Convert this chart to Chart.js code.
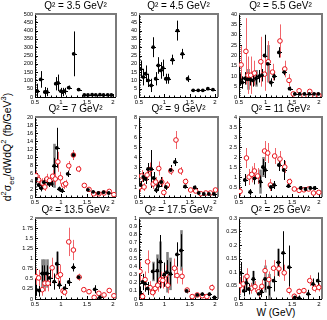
<!DOCTYPE html>
<html><head><meta charset="utf-8">
<script src="https://cdn.jsdelivr.net/npm/chart.js@4.4.0/dist/chart.umd.min.js"></script>
<style>
body{margin:0;width:327px;height:320px;background:#fff;position:relative;overflow:hidden;font-family:"Liberation Sans",Arial,sans-serif;color:#000}
.p{position:absolute}
.p canvas{display:block}
#yl{position:absolute;left:7px;top:147px;transform:translate(-50%,-50%) rotate(-90deg);white-space:nowrap;font-size:10.5px;line-height:1}
#yl sup,#yl sub{font-size:7.5px;line-height:0}
#xl{position:absolute;left:276px;top:313px;transform:translate(-50%,-50%);white-space:nowrap;font-size:10px;line-height:1}
</style></head><body>
<div id="yl">d<sup>2</sup>σ<sub>ee</sub>/dWdQ<sup>2</sup> (fb/GeV<sup>3</sup>)</div>
<div id="xl">W (GeV)</div>
<script>
// ---- data: W (GeV), value, stat error, systematic (gray) ----
// Q2 = 3.5
const w35k=[0.545,0.61,0.69,0.73,0.90,0.945,1.00,1.03,1.07,1.15,1.245,1.34,1.45,1.52,1.60,1.67,1.75,1.82,1.90,1.97];
const y35k=[35,106,30,30,80,85,35,30,35,57,260,45,12,12,14,13,14,12,13,12];
const e35k=[45,50,30,25,40,50,20,25,20,12,135,8,5,5,5,5,5,5,5,5];
// Q2 = 4.5
const w45k=[0.53,0.585,0.63,0.68,0.74,0.78,0.83,0.88,0.93,0.97,1.03,1.08,1.16,1.26,1.355,1.46,1.57,1.67,1.76,1.86,1.96];
const y45k=[17,12,14,10,7,30,11,19,16,17.5,11,11,22.5,40,26,11,4,4,4,5,4.5];
const e45k=[5,5,5,4,4,6,4,5,5,5,3,3,3,6,3,2,0.6,0.6,0.6,0.6,0.6];
// Q2 = 5.5
const w55k=[0.52,0.56,0.61,0.66,0.71,0.76,0.82,0.88,0.93,0.98,1.04,1.10,1.16,1.25,1.35,1.45,1.55,1.64,1.73,1.82,1.91,1.99];
const y55k=[8.4,7,9,8.5,8.5,8,9,10,10.5,20,16,7,10,21.5,12,4,1.5,1.5,1.5,1.5,1.5,1.5];
const e55k=[3,3,3,3,3,3,3,3,3,10,6,2,2,2.5,1.5,1,0.5,0.5,0.5,0.5,0.5,0.5];
const s55k=[0,0,0,5,0,0,4,0,0,0,9,0,0,0,0,0,0,0,0,0,0,0];
const w55r=[0.54,0.63,0.67,0.72,0.79,0.91,0.98,1.05,1.13,1.27,1.36,1.44,1.52,1.63,1.72,1.83,1.92,2.00];
const y55r=[15.5,22,10.5,10.5,11.5,17,11,17,12,27,13.5,8,1.5,3,0.7,2.7,0.8,0.8];
const e55r=[9,16,9,9,6,12,8,10,4,8,4,3,1,1,0.6,1,0.6,0.6];
// Q2 = 7
const w70k=[0.52,0.57,0.62,0.67,0.76,0.82,0.87,0.92,0.97,1.02,1.13,1.24,1.52,1.62,1.72,1.82,1.92];
const y70k=[4.5,3,2.2,3.7,3.3,3.3,7.8,12.3,2,1.6,5.8,10.5,1.8,1.3,1.0,1.2,1.0];
const e70k=[1,1,0.8,1,0.8,0.8,2,5,0.6,0.6,0.8,1.2,0.3,0.3,0.2,0.2,0.2];
const s70k=[0,0,0,0,0,0,5.5,0,0,0,0,0,0,0,0,0,0];
const w70r=[0.52,0.57,0.64,0.69,0.73,0.78,0.84,0.89,0.94,0.99,1.05,1.09,1.15,1.24,1.34,1.45,1.54,1.63,1.73,1.83,1.93,2.02];
const y70r=[5.3,4.3,3.5,2.5,4.5,4.1,5.2,4.5,8.8,4.8,3,3.3,7.8,10.5,7,2.9,1.9,0.8,0.8,1.0,1.4,0.6];
const e70r=[1.2,1.2,1.2,1,1.3,1.3,1.5,1.5,2.5,1.5,1,1,1.2,1.2,0.8,0.4,0.3,0.2,0.2,0.2,0.3,0.2];
// Q2 = 9
const w90k=[0.53,0.585,0.63,0.68,0.74,0.79,0.84,0.88,0.94,1.03,1.125,1.21,1.41,1.60,1.68,1.78,1.88,1.98];
const y90k=[1.2,2.0,1.8,2.8,2.8,1.9,0.7,1.1,1.5,1.0,2.7,3.5,1.05,0.95,0.4,0.3,0.3,0.3];
const e90k=[0.4,0.5,0.5,0.6,1.9,0.6,0.3,0.4,0.5,0.3,0.5,0.4,0.2,0.2,0.15,0.1,0.1,0.1];
const w90r=[0.51,0.55,0.60,0.66,0.72,0.78,0.83,0.89,0.95,0.99,1.06,1.13,1.23,1.32,1.42,1.52,1.62,1.72,1.82,1.91,2.01];
const y90r=[1.0,2.1,1.0,2.2,2.75,1.3,1.5,2.85,1.5,0.45,1.2,2.6,5.7,2.6,1.55,0.7,0.6,0.33,0.4,0.4,0.7];
const e90r=[0.5,0.6,0.4,0.6,0.7,0.5,0.5,0.7,0.5,0.3,0.4,0.4,0.9,0.4,0.3,0.15,0.12,0.1,0.1,0.1,0.15];
// Q2 = 11
const w11k=[0.61,0.71,0.79,0.90,0.95,0.99,1.10,1.16,1.25,1.34,1.43,1.66,1.75,1.84,1.92];
const y11k=[0.85,0.25,0.93,0.77,1.5,1.35,0.5,0.6,1.6,1.35,0.55,0.45,0.4,0.45,0.45];
const e11k=[0.3,0.15,0.3,0.3,0.4,0.4,0.2,0.2,0.3,0.5,0.1,0.1,0.1,0.1,0.1];
const s11k=[0,0,0,0.6,0.5,0,0,0,0,0,0,0,0,0,0];
const w11r=[0.52,0.64,0.69,0.74,0.79,0.85,0.98,1.04,1.09,1.17,1.27,1.36,1.45,1.54,1.63,1.72,1.81,1.90,2.00];
const y11r=[0.28,1.95,1.0,1.13,1.3,1.05,2.3,2.2,0.6,2.05,1.9,1.5,0.77,0.4,0.33,0.36,0.4,0.2,0.23];
const e11r=[0.2,0.5,0.4,0.4,0.4,0.4,0.5,0.5,0.3,0.4,0.4,0.3,0.15,0.1,0.08,0.08,0.08,0.06,0.06];
// Q2 = 13.5
const w135k=[0.52,0.58,0.64,0.68,0.73,0.78,0.87,0.92,0.97,1.07,1.15,1.24,1.34,1.65,1.75];
const y135k=[0.23,0.21,0.63,0.63,0.63,0.52,0.43,0.87,0.35,0.27,0.42,0.78,0.54,0.24,0.04];
const e135k=[0.15,0.15,0.2,0.2,0.2,0.2,0.2,0.3,0.1,0.1,0.1,0.1,0.08,0.1,0.05];
const s135k=[0,0,0.35,0.35,0.35,0,0,0.3,0,0,0,0,0,0,0];
const w135r=[0.52,0.57,0.64,0.69,0.75,0.83,0.94,0.99,1.04,1.07,1.15,1.24,1.35,1.44,1.54,1.64,1.73,1.83,1.93,2.02];
const y135r=[0.55,0.52,0.23,0.39,0.39,0.77,0.56,0.6,0.2,0.17,1.41,1.21,0.54,0.23,0.18,0.04,0.14,0.1,0.21,0.08];
const e135r=[0.2,0.2,0.15,0.2,0.2,0.25,0.25,0.25,0.1,0.1,0.35,0.25,0.08,0.06,0.05,0.04,0.05,0.04,0.05,0.04];
// Q2 = 17.5
const w175k=[0.52,0.57,0.62,0.67,0.77,0.86,0.92,1.00,1.05,1.12,1.25,1.33,1.44,1.65,1.75,1.89,1.99];
const y175k=[0.08,0.21,0.19,0.13,0.34,0.35,0.46,0.30,0.33,0.31,0.55,0.60,0.10,0.05,0.06,0.06,0.02];
const e175k=[0.07,0.1,0.1,0.08,0.1,0.15,0.33,0.15,0.15,0.15,0.15,0.2,0.03,0.02,0.02,0.02,0.02];
const s175k=[0,0,0,0,0.12,0.2,0.25,0,0.25,0.2,0,0.25,0,0,0,0,0];
const w175r=[0.52,0.57,0.62,0.67,0.72,0.77,0.82,0.87,0.93,0.97,1.03,1.07,1.20,1.25,1.35,1.45,1.55,1.65,1.75,1.84,1.94];
const y175r=[0.34,0.03,0.24,0.46,0.14,0.08,0.13,0.17,0.24,0.23,0.30,0.17,0.38,0.29,0.28,0.11,0.03,0.05,0.04,0.03,0.14];
const e175r=[0.12,0.05,0.1,0.14,0.08,0.05,0.06,0.08,0.1,0.1,0.12,0.1,0.12,0.1,0.1,0.03,0.02,0.02,0.02,0.02,0.04];
// Q2 = 25
const w25k=[0.53,0.59,0.64,0.685,0.77,0.87,0.92,0.99,1.06,1.15,1.24,1.33,1.44,1.55,1.63,1.80,1.89,1.98];
const y25k=[0.097,0.03,0.06,0.037,0.074,0.019,0.027,0.074,0.043,0.068,0.136,0.171,0.118,0.006,0.003,0.019,0.056,0.068];
const e25k=[0.04,0.02,0.03,0.02,0.03,0.02,0.02,0.04,0.03,0.04,0.05,0.08,0.08,0.01,0.01,0.015,0.02,0.03];
const s25k=[0,0,0.03,0,0.03,0,0,0.05,0.05,0,0.05,0,0,0,0,0,0,0];
const w25r=[0.52,0.58,0.65,0.73,0.80,0.87,0.93,0.99,1.06,1.15,1.25,1.35,1.44,1.54,1.63,1.72,1.83,1.92,2.00];
const y25r=[0.05,0.056,0.084,0.04,0.046,0.027,0.047,0.105,0.072,0.114,0.112,0.097,0.032,0.01,0.028,0.031,0.068,0.04,0.043];
const e25r=[0.03,0.03,0.03,0.02,0.02,0.02,0.025,0.04,0.03,0.03,0.03,0.03,0.015,0.01,0.01,0.01,0.02,0.015,0.015];

// titles and axis ticks
const titles=['Q² = 3.5 GeV²','Q² = 4.5 GeV²','Q² = 5.5 GeV²','Q² = 7 GeV²','Q² = 9 GeV²','Q² = 11 GeV²','Q² = 13.5 GeV²','Q² = 17.5 GeV²','Q² = 25 GeV²'];
const yMax=[500,50,40,20,8,4,2,1,0.3];
const yStep=[50,5,5,2,1,0.5,0.25,0.1,0.05];
const xMin=0.5, xMax=2.06, xStep=0.5;

const black=[[w35k,y35k,e35k,null],[w45k,y45k,e45k,null],[w55k,y55k,e55k,s55k],[w70k,y70k,e70k,s70k],[w90k,y90k,e90k,null],[w11k,y11k,e11k,s11k],[w135k,y135k,e135k,s135k],[w175k,y175k,e175k,s175k],[w25k,y25k,e25k,s25k]];
const red=[null,null,[w55r,y55r,e55r],[w70r,y70r,e70r],[w90r,y90r,e90r],[w11r,y11r,e11r],[w135r,y135r,e135r],[w175r,y175r,e175r],[w25r,y25r,e25r]];

// layout
const cols=[[35,116],[139,218],[239,322]];
const rows=[[14,97],[117,197],[218,299]];
const YW=20, TH=14, XH=10, RP=5;
const FONT='"Liberation Sans", Arial, sans-serif';
const fmt=v=>String(parseFloat(Number(v).toFixed(4)));

function mkds(s,isRed){
  const [w,y,e,sy]=s;
  return {data:w.map((x,i)=>({x,y:y[i]})),errs:e,sys:sy,red:isRed,showLine:false,
    pointRadius:isRed?2.3:1.9,pointHoverRadius:isRed?2.3:1.9,
    pointBackgroundColor:isRed?'#fff':'#000',pointBorderColor:isRed?'#e8141c':'#000',
    pointBorderWidth:isRed?1:0};
}

const framePlugin={id:'frame',beforeDatasetsDraw(chart){
  const {ctx,chartArea:a,scales:{x,y}}=chart;
  const st=chart.options.plugins.frame.step;
  ctx.save();
  ctx.strokeStyle='#000';ctx.lineWidth=1;
  ctx.beginPath();
  const n=Math.round(y.max/st*5);
  for(let k=0;k<=n;k++){
    const py=Math.round(y.getPixelForValue(k*st/5))+0.5;
    const L=(k%5===0)?3:1.5;
    ctx.moveTo(a.left,py);ctx.lineTo(a.left+L,py);
  }
  for(let k=5;k<=20;k++){
    const px=Math.round(x.getPixelForValue(k/10))+0.5;
    const L=(k%5===0)?3:1.5;
    ctx.moveTo(px,a.bottom);ctx.lineTo(px,a.bottom-L);
  }
  ctx.stroke();
  ctx.beginPath();
  ctx.moveTo(Math.round(a.left)+0.5,a.top);ctx.lineTo(Math.round(a.left)+0.5,Math.round(a.bottom)+0.5);
  ctx.lineTo(a.right,Math.round(a.bottom)+0.5);ctx.stroke();
  ctx.strokeStyle='#7a7a7a';ctx.lineWidth=2;
  ctx.beginPath();ctx.moveTo(a.left,Math.round(a.top));ctx.lineTo(Math.round(a.right),Math.round(a.top));
  ctx.lineTo(Math.round(a.right),a.bottom);ctx.stroke();
  ctx.restore();
}};

const errPlugin={id:'errbars',beforeDatasetsDraw(chart){
  const {ctx,chartArea:a,scales:{x,y}}=chart;
  ctx.save();ctx.beginPath();ctx.rect(a.left,a.top,a.right-a.left,a.bottom-a.top);ctx.clip();
  chart.data.datasets.forEach(d=>{
    d.data.forEach((p,i)=>{
      const px=Math.round(x.getPixelForValue(p.x))+0.5;
      if(d.sys&&d.sys[i]){
        ctx.strokeStyle='#808080';ctx.lineWidth=2.6;ctx.beginPath();
        ctx.moveTo(px,y.getPixelForValue(p.y-d.sys[i]));ctx.lineTo(px,y.getPixelForValue(p.y+d.sys[i]));ctx.stroke();
      }
      ctx.strokeStyle=d.red?'#f0646a':'#000';ctx.lineWidth=1;ctx.beginPath();
      ctx.moveTo(px,y.getPixelForValue(p.y-d.errs[i]));ctx.lineTo(px,y.getPixelForValue(p.y+d.errs[i]));
      if(!d.red){const py=Math.round(y.getPixelForValue(p.y))+0.5;ctx.moveTo(px-2.5,py);ctx.lineTo(px+2.5,py);}
      ctx.stroke();
    });
  });
  ctx.restore();
}};

for(let i=0;i<9;i++){
  const c=cols[i%3], r=rows[Math.floor(i/3)];
  const W=(c[1]-c[0])+YW+RP, H=TH+(r[1]-r[0])+XH;
  const div=document.createElement('div');div.className='p';
  div.style.left=(c[0]-YW)+'px';div.style.top=(r[0]-TH)+'px';div.style.width=W+'px';div.style.height=H+'px';
  const cv=document.createElement('canvas');cv.width=W;cv.height=H;cv.style.width=W+'px';cv.style.height=H+'px';
  div.appendChild(cv);document.body.appendChild(div);
  const datasets=[mkds(black[i],false)];
  if(red[i])datasets.push(mkds(red[i],true));
  new Chart(cv,{type:'scatter',data:{datasets},
    options:{responsive:false,animation:false,devicePixelRatio:1,
      layout:{padding:{left:0,right:RP,top:0,bottom:0}},
      plugins:{legend:{display:false},tooltip:{enabled:false},
        title:{display:true,text:titles[i],fullSize:false,color:'#000',font:{family:FONT,size:10,weight:'normal'},padding:{top:0,bottom:2}},
        frame:{step:yStep[i]}},
      scales:{
        x:{type:'linear',position:'bottom',min:xMin,max:xMax,afterFit:s=>{s.height=XH;},
          grid:{display:false,drawTicks:false},border:{display:false},
          ticks:{display:true,stepSize:xStep,includeBounds:false,autoSkip:false,maxRotation:0,minRotation:0,padding:2,color:'#000',font:{family:FONT,size:6},callback:fmt}},
        y:{type:'linear',min:0,max:yMax[i],afterFit:s=>{s.width=YW;},
          grid:{display:false,drawTicks:false},border:{display:false},
          ticks:{stepSize:yStep[i],includeBounds:false,autoSkip:false,padding:2,color:'#000',font:{family:FONT,size:5.5},callback:fmt}}
      }},
    plugins:[framePlugin,errPlugin]});
}
</script>
</body></html>
